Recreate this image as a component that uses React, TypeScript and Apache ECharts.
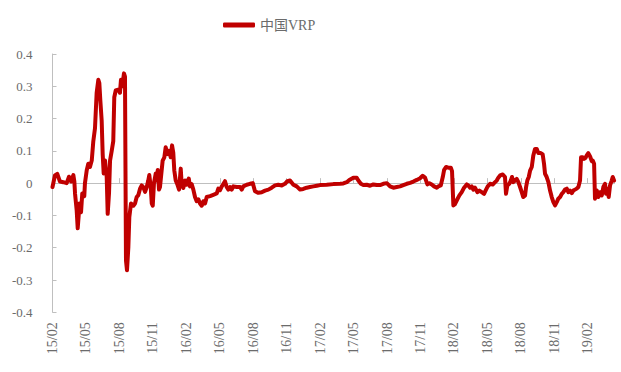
import React, { useEffect, useRef } from "react";
import * as echarts from "echarts";

const seriesName = "中国VRP";
const tickLabels = ["15/02", "15/05", "15/08", "15/11", "16/02", "16/05", "16/08", "16/11", "17/02", "17/05", "17/08", "17/11", "18/02", "18/05", "18/08", "18/11", "19/02"];
const monthsPerTick = 3;
const xMax = 50.4;

// x position: months since 2015-02
const xMonths = [
  0.0, 0.22, 0.43, 0.67, 0.97, 1.27, 1.48, 1.66, 1.87, 1.96, 2.02, 2.17, 2.26, 2.35, 2.4, 2.56, 2.67, 2.85, 2.91, 3.07,
  3.21, 3.36, 3.52, 3.66, 3.81, 3.96, 4.11, 4.2, 4.29, 4.41, 4.5, 4.59, 4.71, 4.86, 4.95, 5.07, 5.16, 5.31, 5.45, 5.54,
  5.67, 5.9, 6.05, 6.14, 6.26, 6.41, 6.5, 6.59, 6.68, 6.8, 6.89, 7.04, 7.25, 7.4, 7.55, 7.7, 7.85, 8.0, 8.14, 8.3,
  8.45, 8.59, 8.68, 8.81, 8.9, 8.99, 9.1, 9.26, 9.35, 9.44, 9.55, 9.64, 9.79, 9.88, 10.03, 10.15, 10.3, 10.45, 10.6, 10.72,
  10.83, 10.92, 11.05, 11.19, 11.35, 11.5, 11.59, 11.73, 11.88, 12.04, 12.22, 12.33, 12.48, 12.63, 12.78, 12.93, 13.08, 13.23, 13.38, 13.53,
  13.68, 13.83, 14.13, 14.42, 14.73, 14.87, 15.02, 15.18, 15.32, 15.47, 15.62, 15.77, 15.92, 16.07, 16.22, 16.52, 16.82, 16.97, 17.11, 17.42,
  17.71, 17.96, 18.16, 18.46, 18.76, 19.06, 19.36, 19.66, 19.96, 20.25, 20.56, 20.85, 21.06, 21.3, 21.6, 21.9, 22.2, 22.49, 22.8, 23.09,
  23.39, 23.7, 23.99, 24.59, 25.19, 25.79, 26.08, 26.39, 26.62, 26.98, 27.28, 27.43, 27.65, 27.88, 28.18, 28.48, 28.77, 29.08, 29.37, 29.67,
  29.98, 30.27, 30.57, 30.87, 31.17, 31.46, 31.77, 32.07, 32.36, 32.67, 32.96, 33.2, 33.41, 33.62, 33.8, 34.01, 34.22, 34.46, 34.6, 34.82,
  35.0, 35.12, 35.3, 35.5, 35.72, 35.83, 35.95, 36.08, 36.26, 36.49, 36.7, 36.91, 37.15, 37.29, 37.45, 37.6, 37.74, 37.89, 38.1, 38.28,
  38.49, 38.7, 38.88, 39.03, 39.24, 39.48, 39.69, 39.84, 39.98, 40.14, 40.38, 40.58, 40.67, 40.79, 40.97, 41.1, 41.21, 41.33, 41.48, 41.63,
  41.78, 41.93, 42.08, 42.22, 42.38, 42.47, 42.58, 42.71, 42.83, 42.98, 43.12, 43.27, 43.43, 43.57, 43.79, 43.96, 44.08, 44.17, 44.32, 44.47,
  44.62, 44.77, 44.92, 45.07, 45.22, 45.36, 45.52, 45.67, 45.81, 45.96, 46.12, 46.26, 46.41, 46.57, 46.71, 46.86, 47.01, 47.16, 47.31, 47.4,
  47.55, 47.67, 47.79, 47.91, 48.05, 48.21, 48.36, 48.45, 48.57, 48.65, 48.81, 48.95, 49.1, 49.26, 49.4, 49.55, 49.64, 49.76, 49.88, 50.0,
  50.15, 50.24, 50.36,
];

const vrpValues = [
  -0.012, 0.024, 0.029, 0.005, 0.003, 0.0, 0.02, 0.005, 0.025, 0.005, -0.032, -0.085, -0.14, -0.1, -0.063, -0.09, -0.032, -0.04, 0.0, 0.04,
  0.06, 0.05, 0.07, 0.13, 0.17, 0.28, 0.32, 0.31, 0.256, 0.194, 0.09, 0.03, 0.07, 0.02, -0.095, -0.03, 0.07, 0.1, 0.13, 0.266,
  0.287, 0.29, 0.28, 0.32, 0.3, 0.34, 0.33, -0.24, -0.27, -0.2, -0.105, -0.063, -0.07, -0.063, -0.043, -0.037, -0.017, -0.007, -0.012, -0.027,
  -0.012, 0.008, 0.025, -0.012, -0.063, -0.07, 0.0, 0.03, 0.008, 0.041, -0.02, -0.012, 0.04, 0.07, 0.08, 0.111, 0.09, 0.1, 0.08, 0.117,
  0.095, 0.04, 0.008, -0.003, -0.02, 0.045, -0.005, -0.015, 0.008, -0.005, 0.014, -0.01, -0.003, -0.02, -0.043, -0.056, -0.05, -0.063, -0.07, -0.056,
  -0.063, -0.043, -0.04, -0.036, -0.032, -0.017, -0.022, -0.01, -0.003, 0.006, -0.012, -0.02, -0.012, -0.02, -0.01, -0.012, -0.012, -0.02, -0.01, -0.005,
  -0.002, 0.0, -0.025, -0.03, -0.028, -0.023, -0.02, -0.014, -0.007, -0.005, -0.007, -0.002, 0.006, 0.008, -0.005, -0.01, -0.02, -0.018, -0.014, -0.012,
  -0.01, -0.008, -0.006, -0.005, -0.003, -0.002, -0.001, 0.003, 0.01, 0.017, 0.017, 0.008, -0.002, -0.006, -0.005, -0.008, -0.004, -0.006, -0.006, -0.002,
  0.0, -0.01, -0.014, -0.012, -0.01, -0.006, -0.002, 0.001, 0.005, 0.01, 0.015, 0.023, 0.017, -0.004, 0.0, -0.004, -0.01, -0.014, -0.01, -0.007,
  0.019, 0.041, 0.05, 0.048, 0.048, 0.037, -0.069, -0.066, -0.053, -0.038, -0.028, -0.014, -0.004, -0.007, -0.014, -0.01, -0.02, -0.014, -0.028, -0.023,
  -0.028, -0.033, -0.02, -0.01, -0.002, -0.004, 0.003, 0.008, 0.017, 0.024, 0.027, 0.019, -0.033, -0.007, -0.002, 0.008, 0.019, 0.003, 0.008, 0.013,
  0.003, -0.012, -0.028, -0.043, -0.038, -0.012, 0.008, 0.019, 0.039, 0.05, 0.086, 0.106, 0.106, 0.093, 0.093, 0.089, 0.06, 0.029, 0.019, 0.003,
  -0.023, -0.043, -0.059, -0.069, -0.059, -0.048, -0.043, -0.033, -0.028, -0.02, -0.017, -0.028, -0.023, -0.031, -0.023, -0.02, -0.017, -0.012, 0.008, 0.08,
  0.08, 0.075, 0.078, 0.086, 0.093, 0.083, 0.068, 0.07, 0.06, -0.048, -0.023, -0.043, -0.028, -0.038, -0.012, -0.002, -0.033, -0.017, -0.043, -0.007,
  0.008, 0.019, 0.008,
];

const FONT = '"Liberation Serif", "Noto Sans CJK SC", serif';
const TEXT_COLOR = "#6b6b6b";
const AXIS_COLOR = "#BFBFBF";
const LINE_COLOR = "#C00000";

export default function App() {
  const ref = useRef<HTMLDivElement>(null);

  useEffect(() => {
    if (!ref.current) return;
    const chart = echarts.init(ref.current, undefined, { renderer: "svg" });
    const tickValues = tickLabels.map((_, i) => i * monthsPerTick);
    const data = xMonths.map((m, i) => [m, vrpValues[i]]);

    chart.setOption({
      animation: false,
      legend: {
        data: [seriesName],
        left: 218,
        top: 13,
        icon: "roundRect",
        itemWidth: 32,
        itemHeight: 5,
        itemGap: 10,
        textStyle: { fontSize: 14, color: TEXT_COLOR, fontFamily: FONT },
      },
      grid: { left: 52.5, right: 6.5, top: 54, bottom: 59.7, containLabel: false },
      xAxis: [
        {
          type: "value",
          min: 0,
          max: xMax,
          interval: monthsPerTick,
          axisLine: { show: false, onZero: false },
          axisTick: { show: false },
          splitLine: { show: false },
          axisLabel: {
            rotate: 90,
            margin: 10,
            fontSize: 14,
            color: TEXT_COLOR,
            fontFamily: FONT,
            customValues: tickValues,
            formatter: (v: number) => {
              const idx = Math.round(v / monthsPerTick);
              return Math.abs(v - idx * monthsPerTick) < 1e-6 && tickLabels[idx] ? tickLabels[idx] : "";
            },
          },
        },
        {
          type: "value",
          min: 0,
          max: xMax,
          interval: monthsPerTick,
          position: "bottom",
          axisLine: { show: true, onZero: true, lineStyle: { color: AXIS_COLOR, width: 1 } },
          axisTick: { show: true, inside: true, length: 5, customValues: tickValues, lineStyle: { color: AXIS_COLOR } },
          axisLabel: { show: false },
          splitLine: { show: false },
        },
      ],
      yAxis: {
        type: "value",
        min: -0.4,
        max: 0.4,
        interval: 0.1,
        axisLine: { show: true, lineStyle: { color: AXIS_COLOR, width: 1 } },
        axisTick: { show: true, inside: true, length: 4, lineStyle: { color: AXIS_COLOR } },
        splitLine: { show: false },
        axisLabel: { margin: 20, fontSize: 13, color: TEXT_COLOR, fontFamily: FONT },
      },
      series: [
        {
          name: seriesName,
          type: "line",
          xAxisIndex: 0,
          yAxisIndex: 0,
          data,
          showSymbol: false,
          symbol: "none",
          lineStyle: { color: LINE_COLOR, width: 4, join: "round", cap: "round" },
          itemStyle: { color: LINE_COLOR },
        },
      ],
    });

    return () => chart.dispose();
  }, []);

  return (
    <div
      ref={ref}
      style={{ position: "fixed", left: 0, top: 0, width: 621, height: 372, background: "#ffffff" }}
    />
  );
}
